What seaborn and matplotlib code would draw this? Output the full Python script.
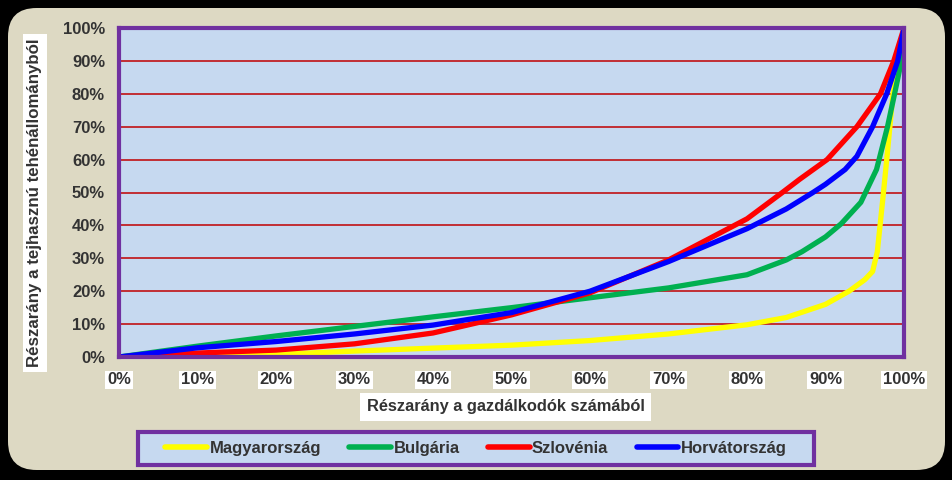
import numpy as np
import pandas as pd
import matplotlib
matplotlib.use("Agg")
import matplotlib.pyplot as plt
from matplotlib.patches import FancyBboxPatch, Rectangle
from matplotlib.lines import Line2D
import seaborn as sns

sns.set_theme(style="white")
plt.rcParams['font.family'] = ['Liberation Sans', 'DejaVu Sans']

# Data (x: share of farms %, y: share of dairy cow stock %)
hu_x = [0, 10, 20, 30, 40, 50, 60, 70, 80, 85, 90, 93, 95, 96, 96.6, 97.3, 97.8, 98.6, 100]
hu_y = [0, 0.3, 0.8, 1.8, 2.7, 3.6, 5, 7, 9.8, 12, 16, 20, 23.5, 26, 32, 48, 60, 80, 100]
bg_x = [0, 10, 20, 30, 40, 50, 60, 70, 80, 85, 87, 90, 92, 94.5, 96.5, 97.9, 98.8, 99.5, 100]
bg_y = [0, 3.3, 6.4, 9.3, 12.2, 15, 18, 21, 25, 29.5, 32, 36.5, 40.5, 47, 57, 70, 80, 88, 100]
si_x = [0, 10, 20, 30, 40, 50, 60, 70, 80, 84.5, 86.7, 90.2, 94, 97, 98.7, 100]
si_y = [0, 1.2, 2.1, 4, 7.3, 12.8, 19.5, 29.5, 42, 50, 54, 60, 70, 80, 90, 100]
hr_x = [0, 10, 20, 30, 40, 50, 60, 70, 80, 85, 88.4, 90, 92.5, 94, 96, 97.8, 99.2, 100]
hr_y = [0, 2.8, 4.7, 7, 9.7, 13.5, 20, 29, 39, 45, 50, 52.5, 57, 61, 70, 80, 90, 100]

names = ["Magyarország", "Bulgária", "Szlovénia", "Horvátország"]
colors = ["#ffff00", "#00b050", "#ff0000", "#0000ff"]

frames = []
for n, xs, ys in zip(names, [hu_x, bg_x, si_x, hr_x], [hu_y, bg_y, si_y, hr_y]):
    frames.append(pd.DataFrame({"x": np.array(xs) / 100, "y": np.array(ys) / 100, "orszag": n}))
df = pd.concat(frames, ignore_index=True)

W, H = 953, 480
fig = plt.figure(figsize=(W / 100, H / 100), dpi=100)
fig.patch.set_facecolor("black")

panel = FancyBboxPatch((8 / W, (H - 470) / H), (945 - 8) / W, (470 - 8) / H,
                       boxstyle="round,pad=0,rounding_size=0.03",
                       transform=fig.transFigure, facecolor="#ddd9c3",
                       edgecolor="none", mutation_aspect=W / H, zorder=-10)
fig.patches.append(panel)

ax = fig.add_axes([119 / W, 1 - 357 / H, (904 - 119) / W, (357 - 28) / H])
ax.set_facecolor("#c6d9f0")

sns.lineplot(data=df, x="x", y="y", hue="orszag", palette=colors,
             hue_order=names, linewidth=3.8, ax=ax, legend=False, sort=False)
for ln in ax.get_lines():
    ln.set_solid_joinstyle("round")

ax.set_xlim(0, 1)
ax.set_ylim(0, 1)
ticks = np.arange(0, 1.01, 0.1)
ax.set_xticks(ticks)
ax.set_yticks(ticks)
ax.set_xticklabels([f"{int(round(t*100))}%" for t in ticks])
ax.set_yticklabels([f"{int(round(t*100))}%" for t in ticks])
for t in ticks[1:-1]:
    ax.axhline(t, color="#c00000", lw=1.1, zorder=0.5)

for s in ax.spines.values():
    s.set_color("#7030a0")
    s.set_linewidth(3)

ax.tick_params(axis="both", which="both", direction="out", length=5, width=1.2,
               color="black", labelsize=12, labelcolor="#333333")
ax.tick_params(axis="x", pad=6)
ax.tick_params(axis="y", pad=5)
for lbl in ax.get_xticklabels():
    lbl.set_fontweight("bold")
    lbl.set_bbox(dict(facecolor="white", edgecolor="none", pad=1.2))
for lbl in ax.get_yticklabels():
    lbl.set_fontweight("bold")

ax.set_xlabel("")
ax.set_ylabel("")
fig.text((362 + 649) / 2 / W, 1 - 407 / H, "Részarány a gazdálkodók számából",
         ha="center", va="center", fontsize=11.8, fontweight="bold", color="#333333",
         bbox=dict(facecolor="white", edgecolor="none", pad=5))
fig.text(35 / W, 1 - 203 / H, "Részarány a tejhasznú tehénállományból",
         ha="center", va="center", rotation=90, fontsize=12.2, fontweight="bold",
         color="#333333", bbox=dict(facecolor="white", edgecolor="none", pad=3.5))

# legend frame
lx0, lx1, ly0, ly1 = 138, 814, 432, 465
fig.patches.append(Rectangle((lx0 / W, 1 - ly1 / H), (lx1 - lx0) / W, (ly1 - ly0) / H,
                             transform=fig.transFigure, facecolor="#c6d9f0",
                             edgecolor="#7030a0", linewidth=3, zorder=1))
handles = [Line2D([0], [0], color=c, lw=4, solid_capstyle="round") for c in colors]
leg = fig.legend(handles, names, loc="center", bbox_to_anchor=((lx0 + lx1) / 2 / W, 1 - 448.5 / H),
                 ncol=4, frameon=False, fontsize=12, handlelength=2.5,
                 handletextpad=0.15, columnspacing=1.7, borderpad=0.2)
leg.set_zorder(5)
for t in leg.get_texts():
    t.set_fontweight("bold")
    t.set_color("#333333")

fig.savefig("out.png", dpi=100, facecolor=fig.get_facecolor())
